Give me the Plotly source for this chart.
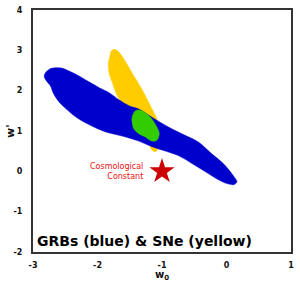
import plotly.graph_objects as go

# GRB contour (blue)
blue_x = [-2.827, -2.801, -2.739, -2.689, -2.560, -2.433, -2.280, -2.126, -1.973, -1.820,
          -1.667, -1.513, -1.360, -1.156, -0.900, -0.644, -0.441, -0.237, -0.031, 0.122,
          0.162, 0.122, 0.019, -0.134, -0.338, -0.543, -0.747, -0.951, -1.156, -1.360,
          -1.513, -1.667, -1.871, -2.126, -2.330, -2.484, -2.612, -2.689, -2.729, -2.790]
blue_y = [2.359, 2.456, 2.537, 2.561, 2.561, 2.480, 2.359, 2.212, 2.073, 1.951,
          1.773, 1.627, 1.544, 1.341, 1.098, 0.895, 0.732, 0.446, 0.163, -0.146,
          -0.261, -0.324, -0.310, -0.202, 0.0, 0.202, 0.390, 0.505, 0.610, 0.749,
          0.829, 0.895, 0.976, 1.154, 1.341, 1.544, 1.749, 1.951, 2.115, 2.237]

# SNe contour (yellow)
yellow_x = [-1.743, -1.693, -1.616, -1.463, -1.310, -1.181, -1.080, -1.038, -1.054, -1.100,
            -1.161, -1.207, -1.360, -1.544, -1.693, -1.769, -1.820, -1.831, -1.809, -1.789]
yellow_y = [3.024, 2.993, 2.846, 2.439, 2.032, 1.627, 1.300, 0.976, 0.610, 0.488,
            0.537, 0.732, 1.122, 1.512, 1.871, 2.195, 2.439, 2.683, 2.846, 2.976]

# Combined contour (green)
green_x = [-1.463, -1.411, -1.310, -1.181, -1.080, -1.043, -1.080, -1.156, -1.257, -1.360, -1.437, -1.463]
green_y = [1.341, 1.505, 1.505, 1.341, 1.098, 0.934, 0.773, 0.749, 0.854, 0.934, 1.056, 1.220]

lambda_x = [-1.0]
lambda_y = [0.0]

x_ticks = [-3, -2, -1, 0, 1]
y_ticks = [-2, -1, 0, 1, 2, 3, 4]

fig = go.Figure()
fig.add_trace(go.Scatter(x=yellow_x + yellow_x[:1], y=yellow_y + yellow_y[:1], mode="lines",
                         line=dict(shape="spline", color="#FFCC00", width=0.5),
                         fill="toself", fillcolor="#FFCC00", hoverinfo="skip"))
fig.add_trace(go.Scatter(x=blue_x + blue_x[:1], y=blue_y + blue_y[:1], mode="lines",
                         line=dict(shape="spline", color="#0000CC", width=0.5),
                         fill="toself", fillcolor="#0000CC", hoverinfo="skip"))
fig.add_trace(go.Scatter(x=green_x + green_x[:1], y=green_y + green_y[:1], mode="lines",
                         line=dict(shape="spline", color="#33CC00", width=0.5),
                         fill="toself", fillcolor="#33CC00", hoverinfo="skip"))
fig.add_trace(go.Scatter(x=lambda_x, y=lambda_y, mode="markers",
                         marker=dict(symbol="star", size=19, color="#CC0000",
                                     line=dict(width=0))))

tickfont = dict(family="DejaVu Sans", size=8, color="#111", weight="bold")
fig.update_xaxes(range=[-3, 1], tickvals=x_ticks, ticktext=[str(v) for v in x_ticks],
                 showgrid=False, zeroline=False, showline=True, mirror=True,
                 linewidth=2, linecolor="#333", ticks="", tickfont=tickfont,
                 ticklabelstandoff=4)
fig.update_yaxes(range=[-2, 4], tickvals=y_ticks, ticktext=[str(v) for v in y_ticks],
                 showgrid=False, zeroline=False, showline=True, mirror=True,
                 linewidth=2, linecolor="#333", ticks="", tickfont=tickfont,
                 ticklabelstandoff=7)

fig.add_annotation(x=-1.268, y=0.0, xref="x", yref="y", xanchor="right", yanchor="middle",
                   align="right", showarrow=False,
                   text="Cosmological<br>Constant",
                   font=dict(family="DejaVu Sans", size=8, color="#EE1111"))
fig.add_annotation(x=0, y=0, xref="paper", yref="paper", xanchor="left", yanchor="bottom",
                   xshift=2, yshift=1, showarrow=False,
                   text="<b>GRBs (blue) &amp; SNe (yellow)</b>",
                   font=dict(family="DejaVu Sans", size=14, color="#000"))
fig.add_annotation(x=0.5, y=0, xref="paper", yref="paper", xanchor="center", yanchor="top",
                   yshift=-15, showarrow=False,
                   text="<b>w<sub>0</sub></b>",
                   font=dict(family="DejaVu Sans", size=10, color="#111"))
fig.add_annotation(x=0, y=0.5, xref="paper", yref="paper", xanchor="center", yanchor="middle",
                   xshift=-23, textangle=-90, showarrow=False,
                   text="<b>w'</b>",
                   font=dict(family="DejaVu Sans", size=11, color="#111"))

fig.update_layout(width=300, height=282, margin=dict(l=33, r=6, t=6, b=30),
                  paper_bgcolor="white", plot_bgcolor="white", showlegend=False)

fig.write_html("out.html")
